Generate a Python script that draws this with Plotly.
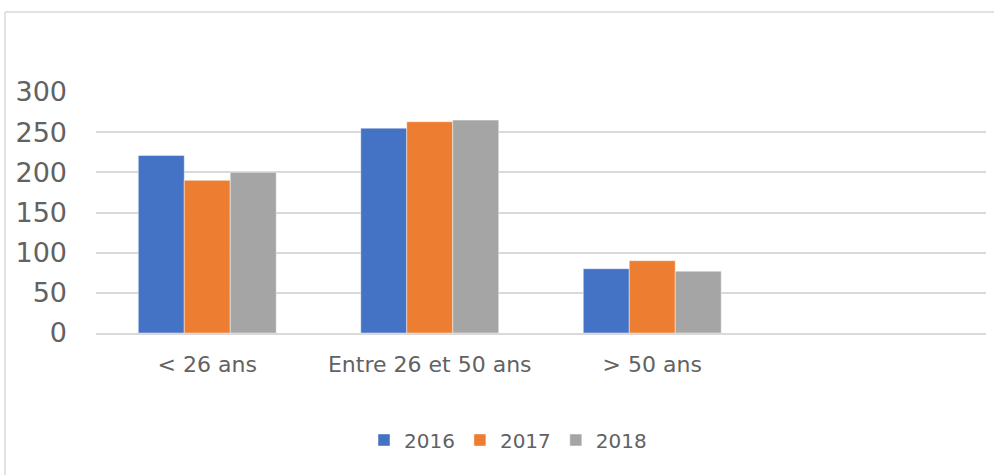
import plotly.graph_objects as go

categories = ["< 26 ans", "Entre 26 et 50 ans", "> 50 ans"]
series_names = ["2016", "2017", "2018"]
values_2016 = [221, 255, 80]
values_2017 = [190, 263, 90]
values_2018 = [200, 265, 77]
colors = ["#4472C4", "#ED7D31", "#A5A5A5"]
y_ticks = [0, 50, 100, 150, 200, 250, 300]

W, H = 994, 475
ML, MR, MT, MB = 96, 8, 92, 142
TXT = "#626262"

fig = go.Figure()
for name, vals, col in zip(series_names, [values_2016, values_2017, values_2018], colors):
    fig.add_trace(go.Bar(
        x=categories, y=vals, name=name,
        marker=dict(color=col, line=dict(color="rgba(255,255,255,0.6)", width=0.75)),
    ))

pw = W - ML - MR
ph = H - MT - MB
bx = (5 - ML) / pw
by = (H - MB - 12) / ph

fig.update_layout(
    width=W, height=H,
    margin=dict(l=ML, r=MR, t=MT, b=MB, pad=0),
    paper_bgcolor="white", plot_bgcolor="white",
    barmode="group", bargap=0.38, bargroupgap=0,
    font=dict(family="DejaVu Sans", color=TXT),
    showlegend=True,
    legend=dict(orientation="h", x=(508 - ML) / pw, xanchor="center",
                y=(H - MB - 440) / ph, yanchor="middle",
                font=dict(size=20, color=TXT), itemwidth=30,
                traceorder="normal"),
    xaxis=dict(range=[-0.5, 3.5], categoryorder="array", categoryarray=categories,
               showgrid=False, showline=True, linecolor="#d9d9d9", linewidth=1.5,
               ticks="", tickfont=dict(size=22, color=TXT),
               ticklabelstandoff=11, fixedrange=True),
    yaxis=dict(range=[0, 300], tickvals=y_ticks, showgrid=True, gridcolor="#d9d9d9",
               gridwidth=1.5, zeroline=False, showline=False, ticks="",
               tickfont=dict(size=27, color=TXT), ticklabelstandoff=28),
    shapes=[
        dict(type="line", xref="paper", yref="paper", x0=bx, x1=1.2, y0=by, y1=by,
             line=dict(color="#d9d9d9", width=1.5)),
        dict(type="line", xref="paper", yref="paper", x0=bx, x1=bx, y0=by, y1=-1,
             line=dict(color="#d9d9d9", width=1.5)),
    ],
)

fig.write_html("out.html", config={"displayModeBar": False},
               post_script="document.body.style.margin='0';document.body.style.overflow='hidden';")
